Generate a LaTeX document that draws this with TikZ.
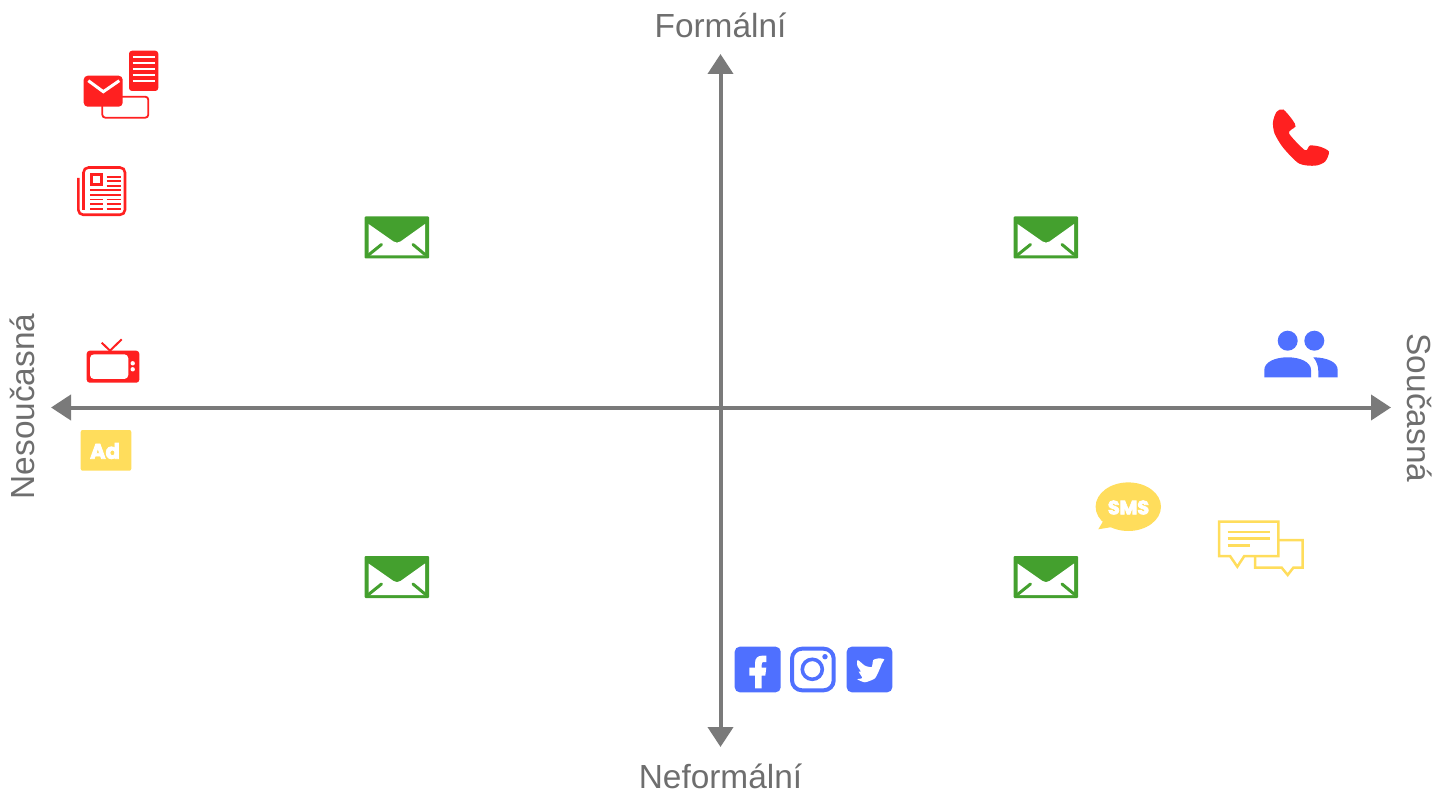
\documentclass[tikz,border=0pt]{standalone}
\usepackage{fontspec}
\usetikzlibrary{arrows.meta}
\setmainfont{Liberation Sans}
\newfontfamily\chubby[FakeBold=4]{Poppins Bold}
\definecolor{axisgray}{HTML}{7A7A7A}
\definecolor{textgray}{HTML}{6E6E6E}
\definecolor{iconred}{HTML}{FF2020}
\definecolor{iconyellow}{HTML}{FFDD5C}
\definecolor{iconblue}{HTML}{4F70FF}
\definecolor{icongreen}{HTML}{44A02E}
\tikzset{
  axis/.style={draw=axisgray,line width=2pt,{Triangle[width=12.5pt,length=10pt]}-{Triangle[width=12.5pt,length=10pt]}},
  axislabel/.style={text=textgray,font=\fontsize{16.7pt}{20pt}\selectfont,inner sep=0pt},
  whiteline/.style={draw=white,line width=0.9pt},
  yellowline/.style={draw=iconyellow,line width=1.25pt},
  newsline/.style={draw=iconred,line width=0.9pt},
  envmail/.pic={
    \fill[icongreen,rounded corners=0.5pt] (0,0) rectangle (64.5,42);
    \fill[white] (4,7.5) -- (29,25) .. controls (31,26.5) and (34,26.5) .. (36,25) -- (60.5,7.5) -- (60.5,39) -- (4,39) -- cycle;
    \draw[icongreen,line width=1.5pt,line cap=round] (4,38.5) -- (17,28);
    \draw[icongreen,line width=1.5pt,line cap=round] (48.5,28) -- (60.5,38);
  }
}
\begin{document}
\begin{tikzpicture}[x=0.5pt,y=-0.5pt]
\useasboundingbox (0,0) rectangle (1441,791);
% axes
\coordinate (west) at (51,407.5);
\coordinate (east) at (1391,407.5);
\coordinate (north) at (720.5,54);
\coordinate (south) at (720.5,747);
\draw[axis] (west) -- (east);
\draw[axis] (north) -- (south);
\node[axislabel] (formal) at (720.5,25) {Formální};
\node[axislabel] (informal) at (720.5,776) {Neformální};
\node[axislabel,rotate=90] (noncurrent) at (22,406.5) {Nesoučasná};
\node[axislabel,rotate=-90] (current) at (1420,408) {Současná};
% green envelopes
\pic at (364.5,216.5) {envmail};
\pic at (1013.5,216.5) {envmail};
\pic at (364.5,556) {envmail};
\pic at (1013.5,556) {envmail};
% red mail group
\draw[iconred,line width=0.9pt,rounded corners=1.5pt] (102.3,96.7) rectangle (148.3,117.7);
\fill[iconred,rounded corners=1.5pt] (129,50.7) rectangle (158.3,91);
\foreach \yy in {56.7,62.7,69,75,81} \draw[whiteline] (132.7,\yy) -- (154.5,\yy);
\fill[iconred,rounded corners=2pt] (83.7,75.7) rectangle (122.7,106.7);
\draw[draw=white,line width=1.5pt] (88.3,80.7) -- (103.3,91.7) -- (119.3,80.7);
% newspaper
\draw[iconred,line width=1.3pt,rounded corners=2.5pt] (83.5,210) -- (83.5,167.5) -- (125,167.5) -- (125,214.8) -- (78.3,214.8) -- (78.3,178);
\draw[iconred,line width=1.5pt] (91,174.7) rectangle (101.5,185);
\foreach \yy in {176.7,181,185.7} \draw[newsline] (106.7,\yy) -- (120.5,\yy);
\foreach \yy in {190,195} \draw[newsline] (90,\yy) -- (120.5,\yy);
\foreach \yy in {199.5,204,209} {
  \draw[newsline] (90,\yy) -- (103,\yy);
  \draw[newsline] (106.7,\yy) -- (120.5,\yy);
}
% TV
\fill[iconred,rounded corners=1.5pt] (86.7,350.7) rectangle (139.3,382.7);
\fill[white,rounded corners=2pt] (90,354.3) rectangle (128.3,379);
\fill[white] (132.7,363.3) circle[radius=2.2];
\fill[white] (132.7,369.3) circle[radius=2.2];
\draw[iconred,line width=1pt] (101.7,342.7) -- (110,350.7) -- (121.7,339.3);
% Ad
\fill[iconyellow,rounded corners=1pt] (80.7,430) rectangle (131.3,470.7);
\node[text=white,inner sep=0pt,font=\chubby\fontsize{10.5pt}{12pt}\selectfont] (adtext) at (105,451) {Ad};
% phone
\fill[iconred] plot[smooth cycle,tension=0.45] coordinates {(1283.3,109.5) (1292.5,120) (1295.5,126.5) (1289,133.3) (1305,150.2) (1310,145.5) (1320,146.7) (1329,151.7) (1325,161.7) (1315,165.7) (1299,163.5) (1283,147.5) (1274.5,133.3) (1273,121.7) (1276.7,111.7)};
% people
\fill[iconblue] (1287.7,340.7) circle[radius=10];
\fill[iconblue] (1314.3,340.7) circle[radius=10];
\fill[iconblue] (1264.3,377.3) -- (1264.3,370) .. controls (1264.3,362) and (1275,357.3) .. (1287.7,357.3) .. controls (1300,357.3) and (1311,362) .. (1311,370) -- (1311,377.3) -- cycle;
\fill[iconblue] (1313.3,357.3) .. controls (1327,357.5) and (1337.7,362) .. (1337.7,370) -- (1337.7,377.3) -- (1318.3,377.3) -- (1318.3,371) .. controls (1318.3,366) and (1316.5,361) .. (1313.3,357.3) -- cycle;
% SMS
\fill[iconyellow] (1128.3,506.7) ellipse[x radius=32.7,y radius=24.3];
\fill[iconyellow] (1098.3,529.3) -- (1105,518) -- (1112,527) -- cycle;
\node[text=white,inner sep=0pt,font=\chubby\fontsize{9.6pt}{11pt}\selectfont] (smstext) at (1128.5,507.5) {SMS};
% chat bubbles
\draw[yellowline] (1219,521.7) -- (1278.3,521.7) -- (1278.3,556) -- (1244.3,556) -- (1237.3,566.7) -- (1230,556) -- (1219,556) -- cycle;
\draw[yellowline] (1227.7,532) -- (1270,532);
\draw[yellowline] (1227.7,538.3) -- (1270,538.3);
\draw[yellowline] (1227.7,545.7) -- (1250,545.7);
\draw[yellowline] (1278.3,540) -- (1302.7,540) -- (1302.7,567.7) -- (1293.3,567.7) -- (1287.7,575) -- (1281.7,567.7) -- (1255,567.7) -- (1255,556);
% facebook
\fill[iconblue,rounded corners=2.5pt] (734.7,646.7) rectangle (780.7,692.3);
\fill[white] (755,688.3) -- (755,675.7) -- (749.3,675.7) -- (749.3,667.7) -- (755,667.7) -- (755,663) .. controls (755,658) and (758,655.7) .. (762,655.7) -- (766.3,655.7) -- (766.3,662) -- (763.5,662) .. controls (762,662) and (761.7,663) .. (761.7,664.5) -- (761.7,667.7) -- (766.3,667.7) -- (765.3,675.7) -- (761.7,675.7) -- (761.7,688.3) -- cycle;
% instagram
\draw[iconblue,line width=2pt,rounded corners=5pt] (792,648.7) rectangle (833.7,690.3);
\draw[iconblue,line width=1.8pt] (812.3,669.3) circle[radius=10];
\fill[iconblue] (825,656.7) circle[radius=2.7];
% twitter
\fill[iconblue,rounded corners=2.5pt] (846.7,646.7) rectangle (892.3,692.3);
\fill[white] plot[smooth cycle,tension=0.35] coordinates {(884.3,659.3) (882,663.3) (880,668.3) (875,678.3) (865,682.3) (857.3,679.3) (862.3,678) (858.7,671.7) (861,671.7) (857.3,665.7) (857.7,660) (865,665.7) (871.7,667) (873.3,660) (879.3,658.3)};
\end{tikzpicture}
\end{document}
